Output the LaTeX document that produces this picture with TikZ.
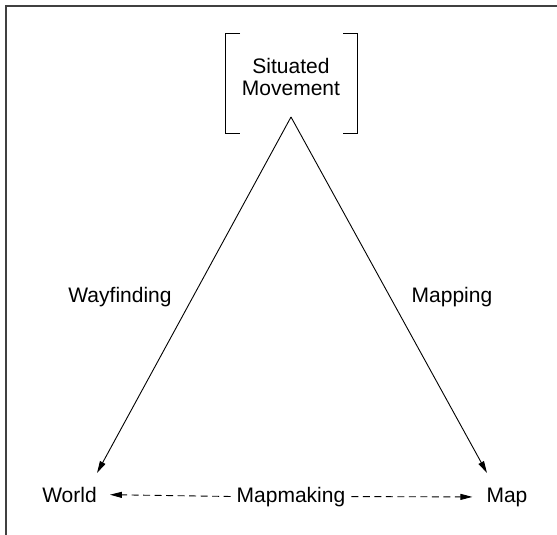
\documentclass[tikz,border=0pt]{standalone}
\usepackage{fontspec}
\setmainfont{Liberation Sans}
\usetikzlibrary{arrows.meta}
\begin{document}
\begin{tikzpicture}[x=1pt,y=-1pt,
  lbl/.style={inner sep=0pt,anchor=base,font=\fontsize{21}{21.5}\selectfont},
  solidarrow/.style={line width=0.9pt,-{Triangle[length=12pt,width=6pt]}},
  dasharrow/.style={line width=0.9pt,dash pattern=on 7pt off 4.5pt,-{Triangle[length=12pt,width=6pt]}},
  bracket/.style={line width=0.9pt},
  frame/.style={line width=2pt,draw=black!75}]
\useasboundingbox (0,0) rectangle (557,535);
% frame (top and left only)
\draw[frame] (6,535) -- (6,6.5) -- (557,6.5);
% brackets
\draw[bracket] (240,33) -- (225,33) -- (225,133) -- (240,133);
\draw[bracket] (343,33) -- (357,33) -- (357,133) -- (343,133);
% nodes
\node[inner sep=0pt,align=center,font=\fontsize{21}{21.5}\selectfont] (sm) at (291,77) {Situated\\Movement};
\coordinate (apex) at (291,117);
\node[lbl] (world) at (69.5,502) {World};
\node[lbl] (map) at (507,502) {Map};
\node[lbl] (mm) at (291,502) {Mapmaking};
\node[lbl] (way) at (120,302) {Wayfinding};
\node[lbl] (mapping) at (452,302) {Mapping};
\coordinate (wtip) at (97,473);
\coordinate (mtip) at (487,473);
% connectors
\draw[solidarrow] (apex) -- (wtip);
\draw[solidarrow] (apex) -- (mtip);
\draw[dasharrow,shorten <=6pt,shorten >=13pt] (mm.west) -- (world.east);
\draw[dasharrow,shorten <=6pt,shorten >=14pt] (mm.east) -- (map.west);
\end{tikzpicture}
\end{document}
